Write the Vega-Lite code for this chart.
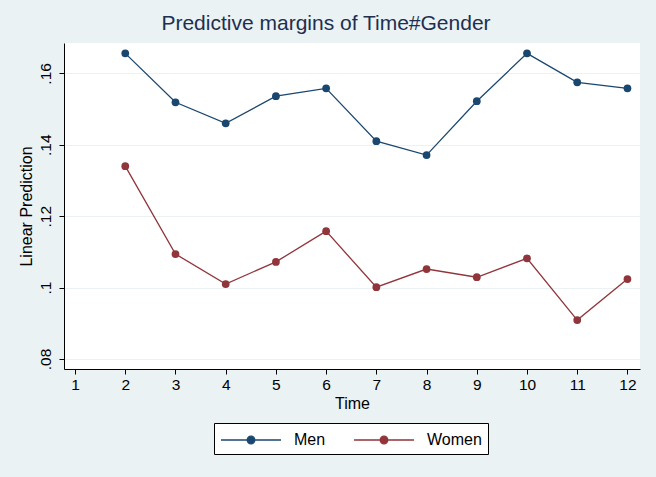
{
  "$schema": "https://vega.github.io/schema/vega-lite/v6.json",
  "width": 576,
  "height": 326,
  "autosize": "none",
  "padding": {"left": 64, "top": 43, "right": 16, "bottom": 108},
  "background": "#EAF2F3",
  "title": {"text": "Predictive margins of Time#Gender", "fontSize": 21, "font": "Liberation Sans", "fontWeight": "normal", "color": "#1E2F50", "anchor": "middle", "offset": 9, "dx": -26},
  "data": {"values": [
    {"Time": 2, "Gender": "Men", "value": 0.1656},
    {"Time": 3, "Gender": "Men", "value": 0.1519},
    {"Time": 4, "Gender": "Men", "value": 0.1460},
    {"Time": 5, "Gender": "Men", "value": 0.1536},
    {"Time": 6, "Gender": "Men", "value": 0.1558},
    {"Time": 7, "Gender": "Men", "value": 0.1410},
    {"Time": 8, "Gender": "Men", "value": 0.1371},
    {"Time": 9, "Gender": "Men", "value": 0.1522},
    {"Time": 10, "Gender": "Men", "value": 0.1656},
    {"Time": 11, "Gender": "Men", "value": 0.1575},
    {"Time": 12, "Gender": "Men", "value": 0.1558},
    {"Time": 2, "Gender": "Women", "value": 0.1340},
    {"Time": 3, "Gender": "Women", "value": 0.1094},
    {"Time": 4, "Gender": "Women", "value": 0.1010},
    {"Time": 5, "Gender": "Women", "value": 0.1072},
    {"Time": 6, "Gender": "Women", "value": 0.1158},
    {"Time": 7, "Gender": "Women", "value": 0.1001},
    {"Time": 8, "Gender": "Women", "value": 0.1052},
    {"Time": 9, "Gender": "Women", "value": 0.1029},
    {"Time": 10, "Gender": "Women", "value": 0.1082},
    {"Time": 11, "Gender": "Women", "value": 0.0909},
    {"Time": 12, "Gender": "Women", "value": 0.1024}
  ]},
  "mark": {"type": "line", "strokeWidth": 1.3, "point": {"filled": true, "size": 60, "opacity": 1}},
  "encoding": {
    "x": {"field": "Time", "type": "quantitative", "scale": {"domain": [0.78, 12.25], "nice": false, "zero": false},
      "axis": {"title": "Time", "values": [1,2,3,4,5,6,7,8,9,10,11,12], "grid": false, "labelFlush": false, "labelPadding": 3, "titlePadding": 3}},
    "y": {"field": "value", "type": "quantitative", "scale": {"domain": [0.0772, 0.1685], "nice": false, "zero": false},
      "axis": {"title": "Linear Prediction", "values": [0.08, 0.1, 0.12, 0.14, 0.16], "labelExpr": "substring(format(datum.value, '.2~f'), 1)", "labelAngle": 270, "labelAlign": "center", "labelBaseline": "bottom", "labelPadding": 6, "grid": true, "titlePadding": 4, "labelFlush": false}},
    "color": {"field": "Gender", "type": "nominal", "scale": {"domain": ["Men", "Women"], "range": ["#1A476F", "#90353B"]},
      "legend": {"title": null, "orient": "none", "legendX": 150, "legendY": 380, "direction": "horizontal",
        "symbolType": "M-1,0L5,0M1.62,0A0.38,0.38 0 1,0 2.38,0A0.38,0.38 0 1,0 1.62,0Z",
        "symbolSize": 400, "symbolStrokeWidth": 1.3, "labelFontSize": 16, "labelFont": "Liberation Sans", "labelColor": "#000000", "labelOffset": 52, "columnPadding": 25,
        "strokeColor": "#000000", "fillColor": "#FFFFFF", "padding": 6,
        "encode": {"symbols": {"update": {"fill": {"scale": "color", "field": "value"}, "stroke": {"scale": "color", "field": "value"}, "opacity": {"value": 1}}}}}}
  },
  "config": {
    "view": {"fill": "#FFFFFF", "stroke": null},
    "axis": {"labelFont": "Liberation Sans", "titleFont": "Liberation Sans", "labelFontSize": 15.5, "titleFontSize": 16, "titleFontWeight": "normal", "labelColor": "#000000", "titleColor": "#000000", "domainColor": "#000000", "tickColor": "#000000", "domainWidth": 1, "tickWidth": 1, "tickSize": 5, "gridColor": "#EAF2F3", "gridWidth": 1}
  }
}
